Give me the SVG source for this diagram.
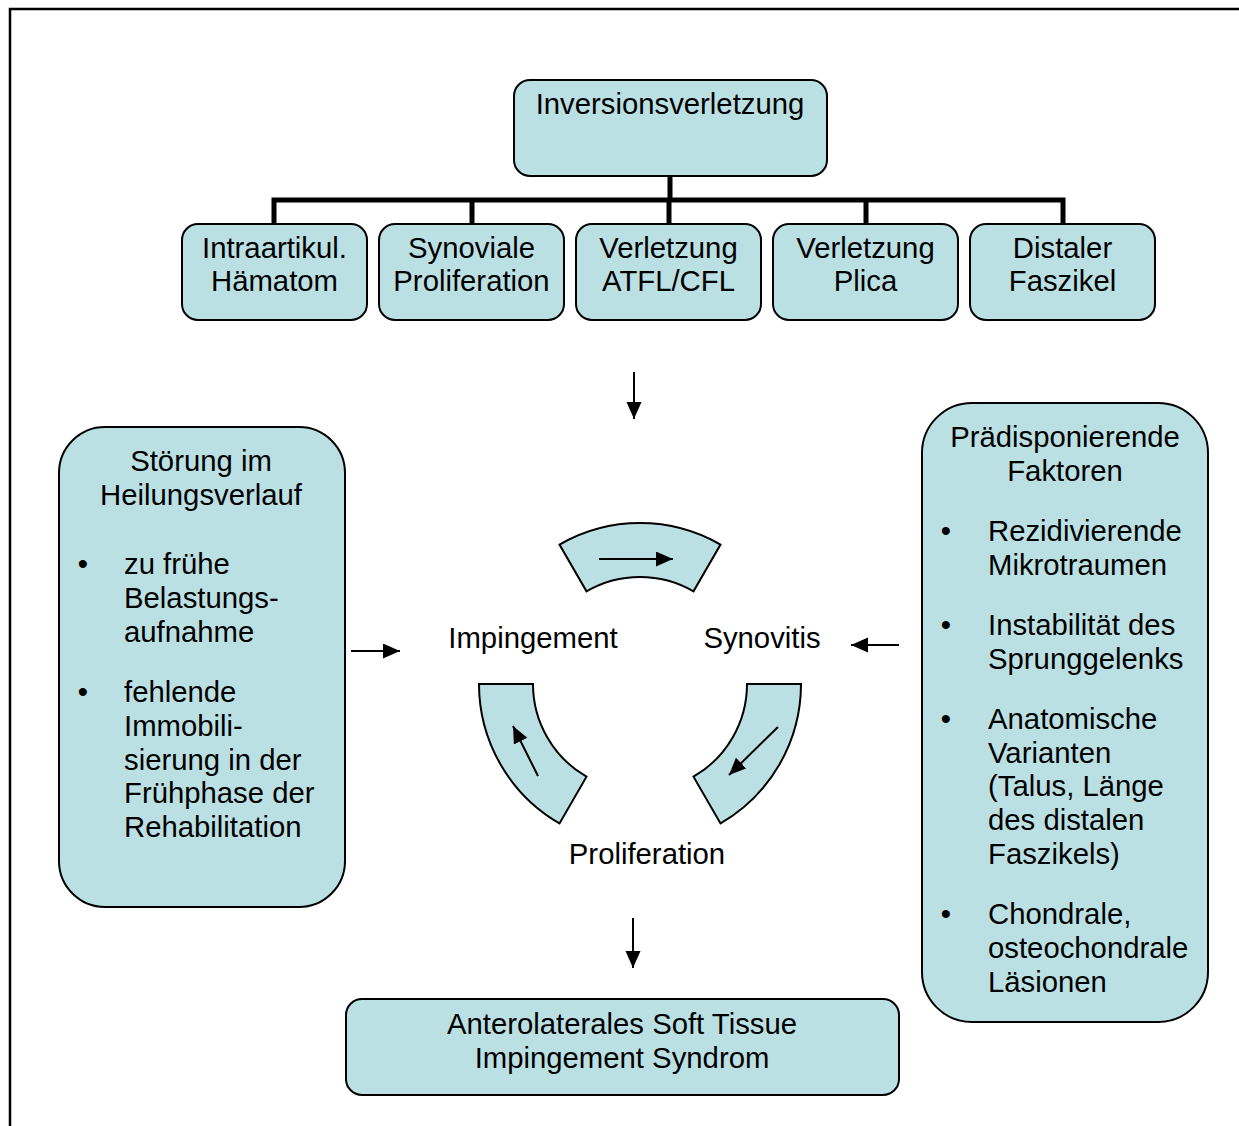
<svg xmlns="http://www.w3.org/2000/svg" width="1239" height="1126" viewBox="0 0 1239 1126">
<defs>
<style>
.box{fill:#BBE0E3;stroke:#000;stroke-width:2}
.t{font-family:"Liberation Sans",Arial,sans-serif;font-size:29.3px;fill:#000}
.c{text-anchor:middle}
.ln{stroke:#000;stroke-width:2;fill:none}
</style>
<marker id="ah" markerUnits="userSpaceOnUse" markerWidth="20" markerHeight="18" refX="17" refY="7.5" orient="auto">
<path d="M0,0 L17,7.5 L0,15 z" fill="#000"/>
</marker>
</defs>
<rect width="1239" height="1126" fill="#fff"/>
<path d="M10,1126 V9 H1239" fill="none" stroke="#000" stroke-width="2.5"/>

<g id="connectors">
<path d="M670,176 V200 M274,224 V200 H1063 V224 M472,200 V224 M669,200 V224 M866,200 V224" fill="none" stroke="#000" stroke-width="5"/>
<line class="ln" x1="634" y1="372" x2="634" y2="419" marker-end="url(#ah)"/>
<line class="ln" x1="633" y1="918" x2="633" y2="968" marker-end="url(#ah)"/>
<line class="ln" x1="351" y1="651" x2="400" y2="651" marker-end="url(#ah)"/>
<line class="ln" x1="899" y1="645" x2="851" y2="645" marker-end="url(#ah)"/>
</g>

<g id="inversion">
<rect class="box" x="514" y="80" width="313" height="96" rx="16"/>
<text class="t c" x="670" y="114">Inversionsverletzung</text>
</g>
<g id="haematom">
<rect class="box" x="182" y="224" width="185" height="96" rx="16"/>
<text class="t c" x="274.5" y="258">Intraartikul.</text>
<text class="t c" x="274.5" y="291">Hämatom</text>
</g>
<g id="synoviale">
<rect class="box" x="379" y="224" width="185" height="96" rx="16"/>
<text class="t c" x="471.5" y="258">Synoviale</text>
<text class="t c" x="471.5" y="291">Proliferation</text>
</g>
<g id="atfl">
<rect class="box" x="576" y="224" width="185" height="96" rx="16"/>
<text class="t c" x="668.5" y="258">Verletzung</text>
<text class="t c" x="668.5" y="291">ATFL/CFL</text>
</g>
<g id="plica">
<rect class="box" x="773" y="224" width="185" height="96" rx="16"/>
<text class="t c" x="865.5" y="258">Verletzung</text>
<text class="t c" x="865.5" y="291">Plica</text>
</g>
<g id="faszikel">
<rect class="box" x="970" y="224" width="185" height="96" rx="16"/>
<text class="t c" x="1062.5" y="258">Distaler</text>
<text class="t c" x="1062.5" y="291">Faszikel</text>
</g>

<g id="stoerung">
<rect class="box" x="59" y="427" width="286" height="480" rx="46"/>
<text class="t c" x="201" y="471">Störung im</text>
<text class="t c" x="201" y="505">Heilungsverlauf</text>
<text class="t c" x="83" y="574">•</text>
<text class="t" x="124" y="574">zu frühe</text>
<text class="t" x="124" y="608">Belastungs-</text>
<text class="t" x="124" y="642">aufnahme</text>
<text class="t c" x="83" y="702">•</text>
<text class="t" x="124" y="702">fehlende</text>
<text class="t" x="124" y="736">Immobili-</text>
<text class="t" x="124" y="770">sierung in der</text>
<text class="t" x="124" y="803">Frühphase der</text>
<text class="t" x="124" y="837">Rehabilitation</text>
</g>

<g id="faktoren">
<rect class="box" x="922" y="403" width="286" height="619" rx="50"/>
<text class="t c" x="1065" y="447">Prädisponierende</text>
<text class="t c" x="1065" y="481">Faktoren</text>
<text class="t c" x="946" y="541">•</text>
<text class="t" x="988" y="541">Rezidivierende</text>
<text class="t" x="988" y="575">Mikrotraumen</text>
<text class="t c" x="946" y="635">•</text>
<text class="t" x="988" y="635">Instabilität des</text>
<text class="t" x="988" y="669">Sprunggelenks</text>
<text class="t c" x="946" y="729">•</text>
<text class="t" x="988" y="729">Anatomische</text>
<text class="t" x="988" y="763">Varianten</text>
<text class="t" x="988" y="796">(Talus, Länge</text>
<text class="t" x="988" y="830">des distalen</text>
<text class="t" x="988" y="864">Faszikels)</text>
<text class="t c" x="946" y="924">•</text>
<text class="t" x="988" y="924">Chondrale,</text>
<text class="t" x="988" y="958">osteochondrale</text>
<text class="t" x="988" y="992">Läsionen</text>
</g>

<g id="cycle">
<path class="box" d="M559.5,544.6 A161,161 0 0 1 720.5,544.6 L693.5,591.3 A107,107 0 0 0 586.5,591.3 Z"/>
<path class="box" d="M801,684 A161,161 0 0 1 720.5,823.4 L693.5,776.7 A107,107 0 0 0 747,684 Z"/>
<path class="box" d="M559.5,823.4 A161,161 0 0 1 479,684 L533,684 A107,107 0 0 0 586.5,776.7 Z"/>
<line class="ln" x1="599" y1="559" x2="673" y2="559" marker-end="url(#ah)"/>
<line class="ln" x1="778" y1="727" x2="729" y2="775" marker-end="url(#ah)"/>
<line class="ln" x1="538" y1="776" x2="513" y2="726" marker-end="url(#ah)"/>
</g>
<g id="impingement"><text class="t c" x="533" y="648">Impingement</text></g>
<g id="synovitis"><text class="t c" x="762" y="648">Synovitis</text></g>
<g id="proliferation"><text class="t c" x="647" y="864">Proliferation</text></g>

<g id="syndrom">
<rect class="box" x="346" y="999" width="553" height="96" rx="16"/>
<text class="t c" x="622" y="1034">Anterolaterales Soft Tissue</text>
<text class="t c" x="622" y="1068">Impingement Syndrom</text>
</g>
</svg>
